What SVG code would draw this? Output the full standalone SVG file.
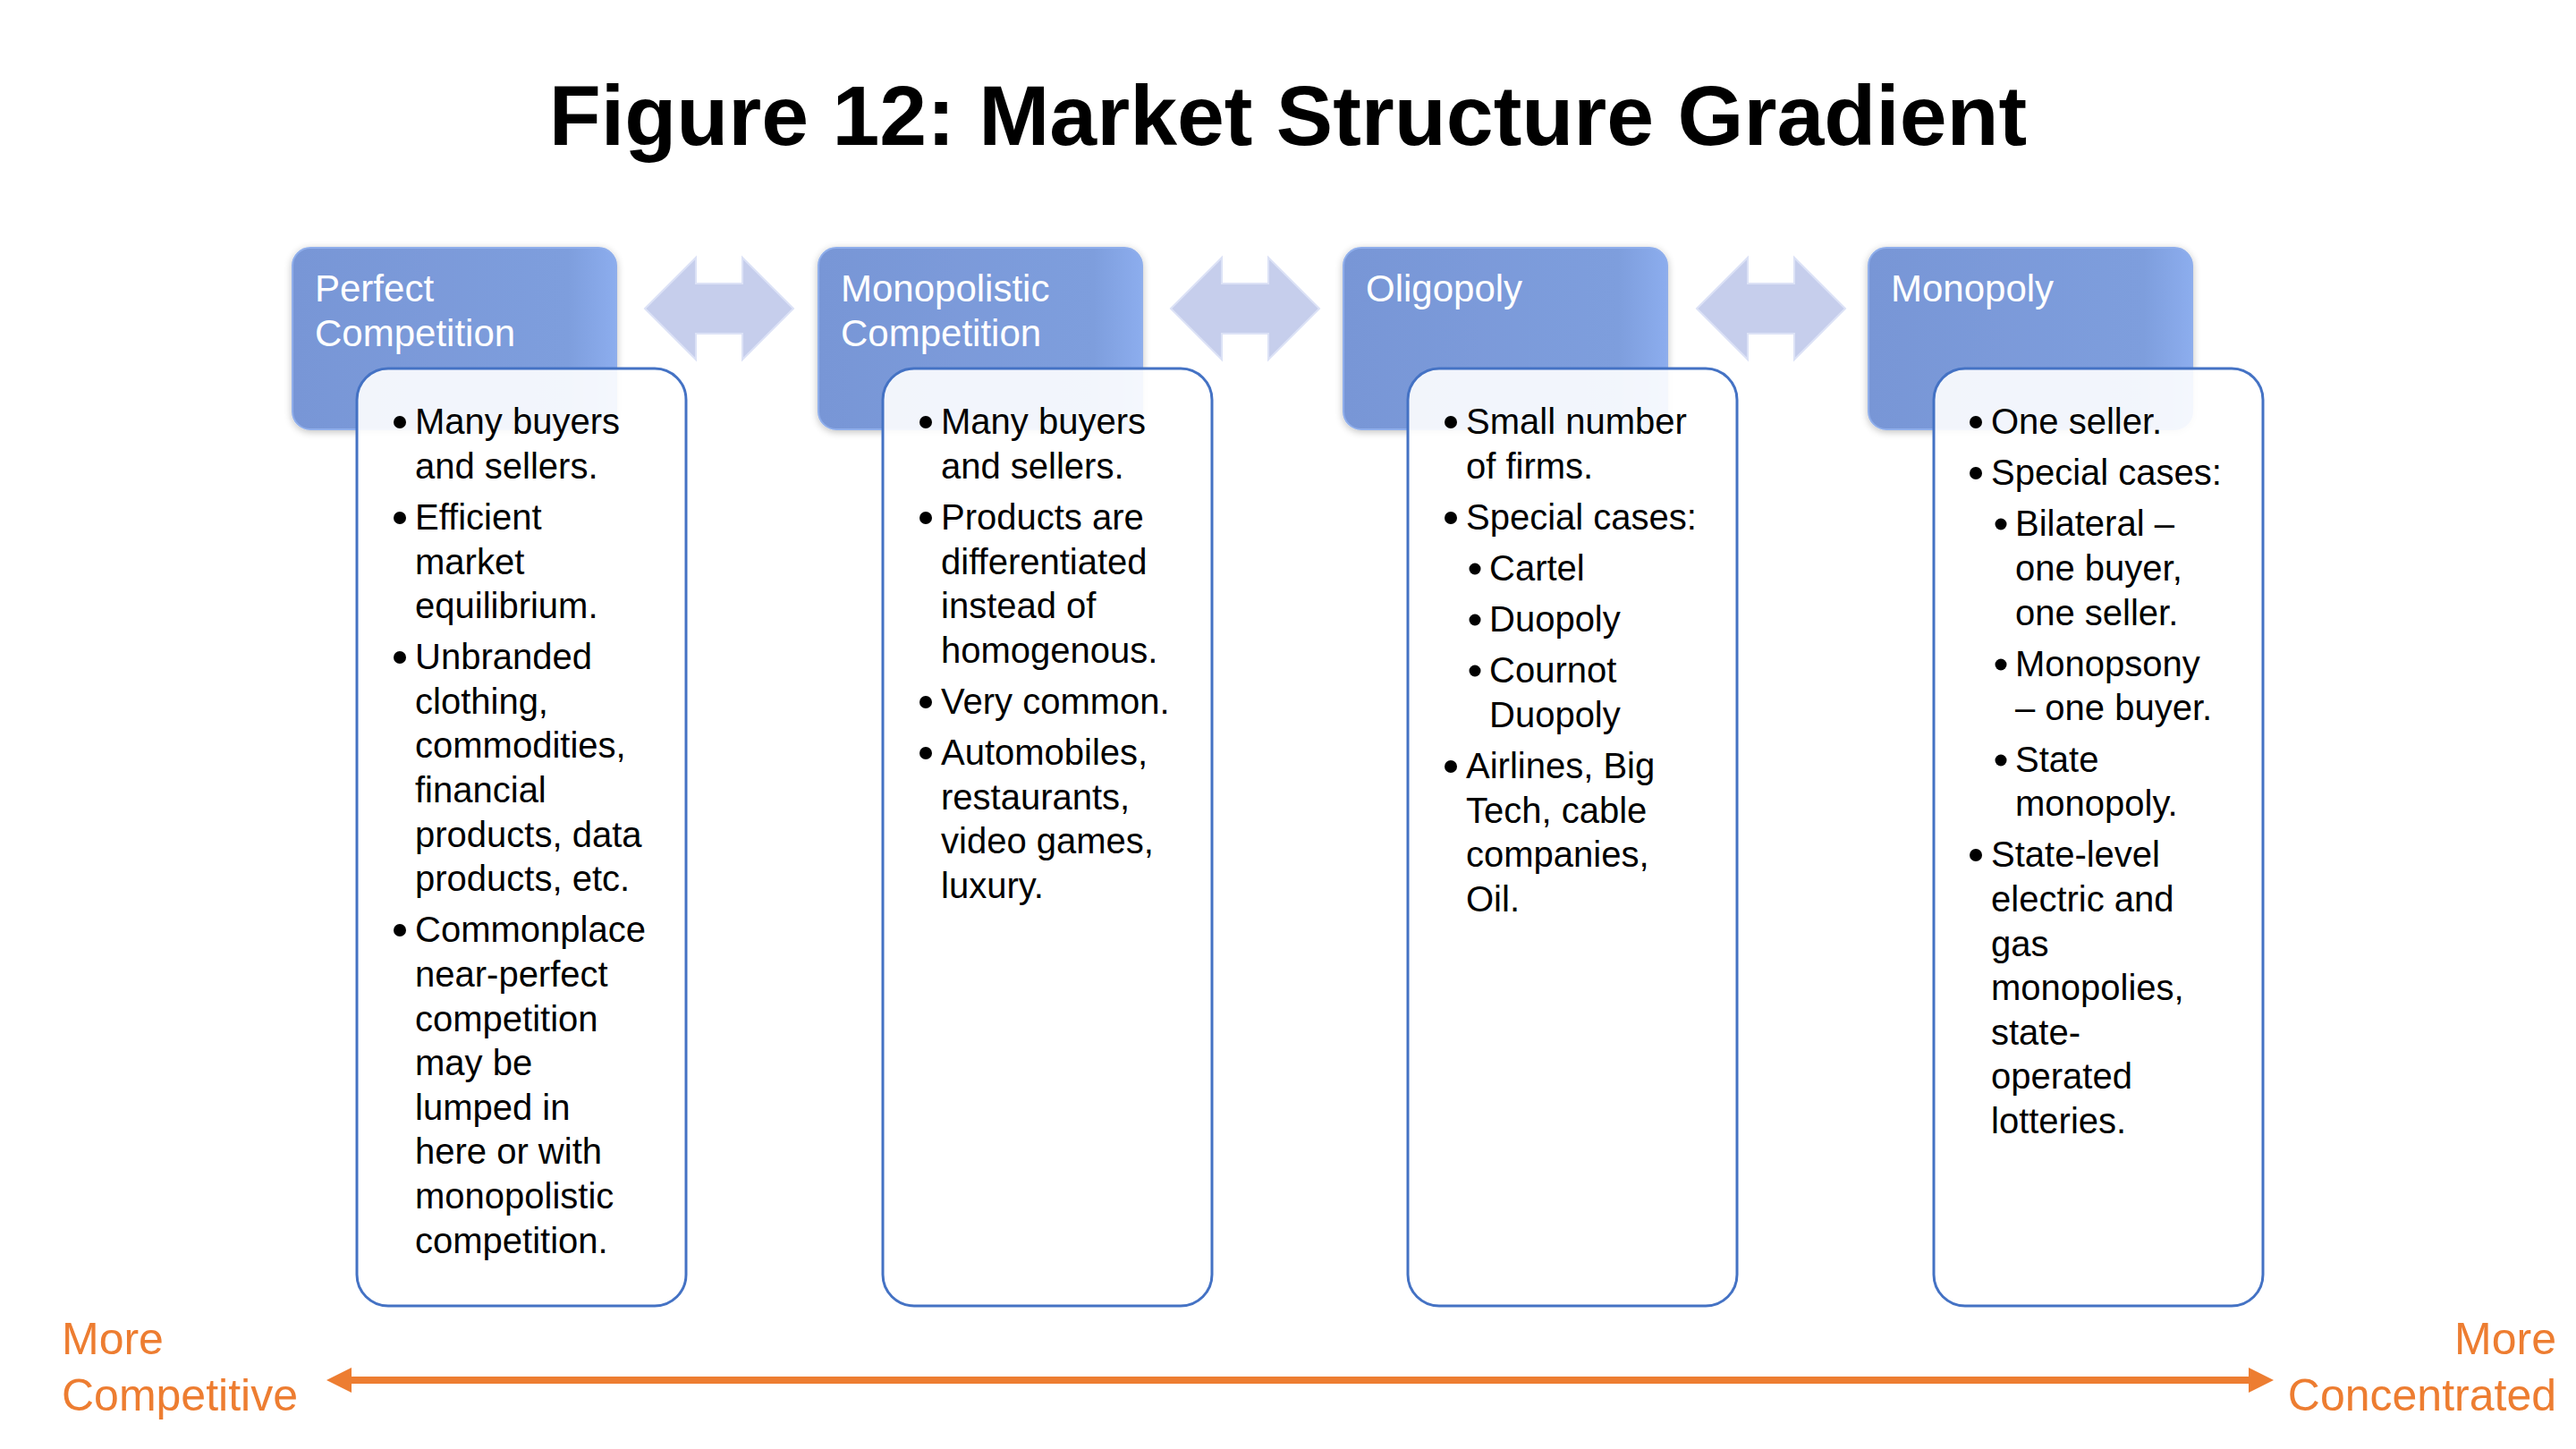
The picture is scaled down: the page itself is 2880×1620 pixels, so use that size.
<svg xmlns="http://www.w3.org/2000/svg" width="2880" height="1620" viewBox="0 0 2880 1620">
<defs>
<style>
.title{font-family:"Liberation Sans",Arial,sans-serif;font-weight:bold;font-size:95px;fill:#000}
.hd{font-family:"Liberation Sans",Arial,sans-serif;font-size:42px;fill:#fff}
.bt{font-family:"Liberation Sans",Arial,sans-serif;font-size:40px;fill:#000}
.ax{font-family:"Liberation Sans",Arial,sans-serif;font-size:50px;fill:#ED7D31}
.hbox{fill:url(#hg);stroke:#8FAEEB;stroke-width:2}
.bbox{fill:#ffffff;fill-opacity:0.9;stroke:#4472C4;stroke-width:3}
.dot{fill:#000}
.darr{fill:#C6CEEC;stroke:#DCE2F6;stroke-width:2}
.oline{stroke:#ED7D31;stroke-width:8;fill:none}
.ohead{fill:#ED7D31}
</style>
<linearGradient id="hg" x1="0" y1="0" x2="1" y2="0">
<stop offset="0" stop-color="#7896D6"/>
<stop offset="0.85" stop-color="#7E9EDD"/>
<stop offset="1" stop-color="#8CADEE"/>
</linearGradient>
<filter id="sh" x="-10%" y="-10%" width="120%" height="120%">
<feGaussianBlur in="SourceAlpha" stdDeviation="4"/>
<feOffset dx="0" dy="2" result="b"/>
<feComponentTransfer><feFuncA type="linear" slope="0.25"/></feComponentTransfer>
<feMerge><feMergeNode/><feMergeNode in="SourceGraphic"/></feMerge>
</filter>
<path id="dblarrow" d="M0,0 L57,-57 L57,-28 L109,-28 L109,-57 L166,0 L109,57 L109,28 L57,28 L57,57 Z"/>
</defs>
<rect width="2880" height="1620" fill="#fff"/>
<text class="title" x="1440" y="162" text-anchor="middle">Figure 12: Market Structure Gradient</text>

<g id="connectors">
<use href="#dblarrow" class="darr" x="721" y="345"/>
<use href="#dblarrow" class="darr" x="1309" y="345"/>
<use href="#dblarrow" class="darr" x="1897" y="345"/>
<line class="oline" x1="390" y1="1543" x2="2516" y2="1543"/>
<polygon class="ohead" points="365,1543 393,1529 393,1557"/>
<polygon class="ohead" points="2542,1543 2514,1529 2514,1557"/>
</g>

<g id="node-perfect">
<rect class="hbox" x="327" y="277" width="362" height="203" rx="20" filter="url(#sh)"/>
<text class="hd" x="352" y="337">Perfect</text>
<text class="hd" x="352" y="387">Competition</text>
<rect class="bbox" x="399" y="412" width="368" height="1048" rx="35"/>
<circle class="dot" cx="447" cy="472" r="7"/>
<circle class="dot" cx="447" cy="579" r="7"/>
<circle class="dot" cx="447" cy="735" r="7"/>
<circle class="dot" cx="447" cy="1040" r="7"/>
<text class="bt" x="464" y="485">Many buyers</text>
<text class="bt" x="464" y="534.6">and sellers.</text>
<text class="bt" x="464" y="592.2">Efficient</text>
<text class="bt" x="464" y="641.8">market</text>
<text class="bt" x="464" y="691.4">equilibrium.</text>
<text class="bt" x="464" y="748.2">Unbranded</text>
<text class="bt" x="464" y="797.8">clothing,</text>
<text class="bt" x="464" y="847.4">commodities,</text>
<text class="bt" x="464" y="897">financial</text>
<text class="bt" x="464" y="946.6">products, data</text>
<text class="bt" x="464" y="996.2">products, etc.</text>
<text class="bt" x="464" y="1053.4">Commonplace</text>
<text class="bt" x="464" y="1103">near-perfect</text>
<text class="bt" x="464" y="1152.6">competition</text>
<text class="bt" x="464" y="1202.2">may be</text>
<text class="bt" x="464" y="1251.8">lumped in</text>
<text class="bt" x="464" y="1301.4">here or with</text>
<text class="bt" x="464" y="1351">monopolistic</text>
<text class="bt" x="464" y="1400.6">competition.</text>
</g>

<g id="node-monopolistic">
<rect class="hbox" x="915" y="277" width="362" height="203" rx="20" filter="url(#sh)"/>
<text class="hd" x="940" y="337">Monopolistic</text>
<text class="hd" x="940" y="387">Competition</text>
<rect class="bbox" x="987" y="412" width="368" height="1048" rx="35"/>
<circle class="dot" cx="1035" cy="472" r="7"/>
<circle class="dot" cx="1035" cy="579" r="7"/>
<circle class="dot" cx="1035" cy="785" r="7"/>
<circle class="dot" cx="1035" cy="842" r="7"/>
<text class="bt" x="1052" y="485">Many buyers</text>
<text class="bt" x="1052" y="534.6">and sellers.</text>
<text class="bt" x="1052" y="592.2">Products are</text>
<text class="bt" x="1052" y="641.8">differentiated</text>
<text class="bt" x="1052" y="691.4">instead of</text>
<text class="bt" x="1052" y="741">homogenous.</text>
<text class="bt" x="1052" y="797.8">Very common.</text>
<text class="bt" x="1052" y="855">Automobiles,</text>
<text class="bt" x="1052" y="904.6">restaurants,</text>
<text class="bt" x="1052" y="954.2">video games,</text>
<text class="bt" x="1052" y="1003.8">luxury.</text>
</g>

<g id="node-oligopoly">
<rect class="hbox" x="1502" y="277" width="362" height="203" rx="20" filter="url(#sh)"/>
<text class="hd" x="1527" y="337">Oligopoly</text>
<rect class="bbox" x="1574" y="412" width="368" height="1048" rx="35"/>
<circle class="dot" cx="1622" cy="472" r="7"/>
<circle class="dot" cx="1622" cy="579" r="7"/>
<circle class="dot" cx="1649" cy="636" r="6.5"/>
<circle class="dot" cx="1649" cy="693" r="6.5"/>
<circle class="dot" cx="1649" cy="750" r="6.5"/>
<circle class="dot" cx="1622" cy="857" r="7"/>
<text class="bt" x="1639" y="485">Small number</text>
<text class="bt" x="1639" y="534.6">of firms.</text>
<text class="bt" x="1639" y="592.2">Special cases:</text>
<text class="bt" x="1665" y="649">Cartel</text>
<text class="bt" x="1665" y="706.2">Duopoly</text>
<text class="bt" x="1665" y="763.4">Cournot</text>
<text class="bt" x="1665" y="813">Duopoly</text>
<text class="bt" x="1639" y="870.2">Airlines, Big</text>
<text class="bt" x="1639" y="919.8">Tech, cable</text>
<text class="bt" x="1639" y="969.4">companies,</text>
<text class="bt" x="1639" y="1019">Oil.</text>
</g>

<g id="node-monopoly">
<rect class="hbox" x="2089" y="277" width="362" height="203" rx="20" filter="url(#sh)"/>
<text class="hd" x="2114" y="337">Monopoly</text>
<rect class="bbox" x="2162" y="412" width="368" height="1048" rx="35"/>
<circle class="dot" cx="2209" cy="472" r="7"/>
<circle class="dot" cx="2209" cy="529" r="7"/>
<circle class="dot" cx="2237" cy="586" r="6.5"/>
<circle class="dot" cx="2237" cy="743" r="6.5"/>
<circle class="dot" cx="2237" cy="850" r="6.5"/>
<circle class="dot" cx="2209" cy="956" r="7"/>
<text class="bt" x="2226" y="485">One seller.</text>
<text class="bt" x="2226" y="542.2">Special cases:</text>
<text class="bt" x="2253" y="599.4">Bilateral –</text>
<text class="bt" x="2253" y="649">one buyer,</text>
<text class="bt" x="2253" y="698.6">one seller.</text>
<text class="bt" x="2253" y="755.8">Monopsony</text>
<text class="bt" x="2253" y="805.4">– one buyer.</text>
<text class="bt" x="2253" y="862.6">State</text>
<text class="bt" x="2253" y="912.2">monopoly.</text>
<text class="bt" x="2226" y="969.4">State-level</text>
<text class="bt" x="2226" y="1019">electric and</text>
<text class="bt" x="2226" y="1068.6">gas</text>
<text class="bt" x="2226" y="1118.2">monopolies,</text>
<text class="bt" x="2226" y="1167.8">state-</text>
<text class="bt" x="2226" y="1217.4">operated</text>
<text class="bt" x="2226" y="1267">lotteries.</text>
</g>

<g id="axis-labels">
<text class="ax" x="69" y="1514">More</text>
<text class="ax" x="69" y="1577">Competitive</text>
<text class="ax" x="2858" y="1514" text-anchor="end">More</text>
<text class="ax" x="2858" y="1577" text-anchor="end">Concentrated</text>
</g>
</svg>
